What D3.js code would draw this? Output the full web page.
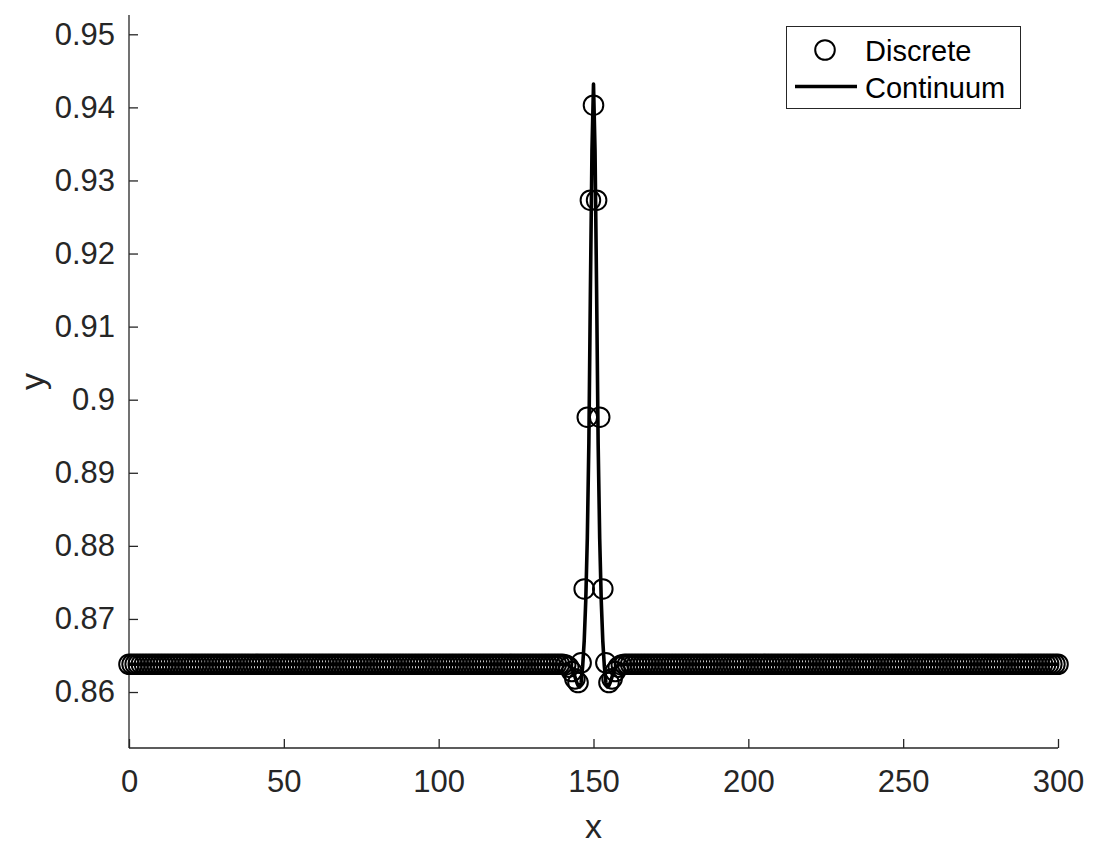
<!DOCTYPE html>
<html>
<head>
<meta charset="utf-8">
<script src="https://cdn.jsdelivr.net/npm/d3@7"></script>
<style>
  html, body { margin: 0; padding: 0; background: #fff; }
  svg { display: block; }
  text { font-family: "Liberation Sans", Arial, Helvetica, sans-serif; }
</style>
</head>
<body>
<svg id="chart" width="1101" height="858"></svg>
<script>
// ---------- data ----------
const xTicks = [0, 50, 100, 150, 200, 250, 300];
const yTicks = [0.86, 0.87, 0.88, 0.89, 0.90, 0.91, 0.92, 0.93, 0.94, 0.95];

// Discrete lattice: integer sites 0..300, flat background value away from the peak
const discreteSiteRange = [0, 300];
const discreteBaseline = 0.8638;
const discretePeakX = [141, 142, 143, 144, 145, 146, 147, 148, 149, 150, 151, 152, 153, 154, 155, 156, 157, 158, 159];
const discretePeakY = [0.8637, 0.8634, 0.8628, 0.8618, 0.8613, 0.8640, 0.8741, 0.8976, 0.9273, 0.9403,
                       0.9273, 0.8976, 0.8741, 0.8640, 0.8613, 0.8618, 0.8628, 0.8634, 0.8637];

// Continuum curve
const continuumX = [0, 140, 141, 142, 142.5, 143, 143.5, 144, 144.5, 145, 145.5, 146, 146.5, 147, 147.5, 148, 148.5, 149, 149.5, 150,
                    150.5, 151, 151.5, 152, 152.5, 153, 153.5, 154, 154.5, 155, 155.5, 156, 156.5, 157, 157.5, 158, 159, 160, 300];
const continuumY = [0.8638, 0.8638, 0.8638, 0.8637, 0.8635, 0.8632, 0.8627, 0.8621, 0.8614, 0.8609, 0.8607, 0.8613, 0.8635, 0.8670, 0.8725, 0.8810, 0.8940, 0.9150, 0.9340, 0.9432,
                    0.9340, 0.9150, 0.8940, 0.8810, 0.8725, 0.8670, 0.8635, 0.8613, 0.8607, 0.8609, 0.8614, 0.8621, 0.8627, 0.8632, 0.8635, 0.8637, 0.8638, 0.8638, 0.8638];

const seriesNames = ["Discrete", "Continuum"];
const xLabel = "x", yLabel = "y";

// ---------- build discrete table ----------
const discrete = d3.range(discreteSiteRange[0], discreteSiteRange[1] + 1).map(xv => {
  const i = discretePeakX.indexOf(xv);
  return { x: xv, y: i >= 0 ? discretePeakY[i] : discreteBaseline };
});
const continuum = continuumX.map((xv, i) => ({ x: xv, y: continuumY[i] }));

// ---------- layout ----------
const svg = d3.select("#chart");
const plotL = 129, plotR = 1058, plotT = 15, plotB = 748;
const axisColor = "#262626";

const xScale = d3.scaleLinear().domain([0, 300]).range([plotL, plotR]);
const yScale = d3.scaleLinear().domain([0.85234, 0.95264]).range([plotB, plotT]);

svg.append("rect").attr("width", 1101).attr("height", 858).attr("fill", "#fff");

// axes (ticks pointing inward, box off)
const xAxis = d3.axisBottom(xScale).tickValues(xTicks).tickSizeInner(-9).tickSizeOuter(0).tickPadding(22).tickFormat(d3.format("d"));
const yAxis = d3.axisLeft(yScale).tickValues(yTicks).tickSizeInner(-9).tickSizeOuter(0).tickPadding(14).tickFormat(d3.format(".2~f"));

const gx = svg.append("g").attr("transform", `translate(0,${plotB})`).call(xAxis);
const gy = svg.append("g").attr("transform", `translate(${plotL},0)`).call(yAxis);
[gx, gy].forEach(g => {
  g.select(".domain").attr("stroke", axisColor).attr("stroke-width", 1.3);
  g.selectAll(".tick line").attr("stroke", axisColor).attr("stroke-width", 1.3);
  g.selectAll(".tick text").attr("fill", axisColor).style("font-size", "31px")
    .style("font-family", '"Liberation Sans", Arial, Helvetica, sans-serif');
});
gx.select(".domain").attr("d", `M${plotL},0H${plotR}`);
gy.select(".domain").attr("d", `M0,${plotB}V${plotT}`);
gx.selectAll(".tick text").attr("dy", "0.71em");

// axis labels
svg.append("text").attr("x", (plotL + plotR) / 2).attr("y", 838)
  .attr("text-anchor", "middle").attr("fill", axisColor).style("font-size", "34px").text(xLabel);
svg.append("text").attr("transform", `translate(44,${(plotT + plotB) / 2}) rotate(-90)`)
  .attr("text-anchor", "middle").attr("fill", axisColor).style("font-size", "34px").text(yLabel);

// discrete circles
svg.append("g").selectAll("circle").data(discrete).join("circle")
  .attr("cx", d => xScale(d.x)).attr("cy", d => yScale(d.y)).attr("r", 9.8)
  .attr("fill", "none").attr("stroke", "#000").attr("stroke-width", 2);

// continuum line
svg.append("path").datum(continuum)
  .attr("d", d3.line().x(d => xScale(d.x)).y(d => yScale(d.y)))
  .attr("fill", "none").attr("stroke", "#000").attr("stroke-width", 3.6).attr("stroke-linejoin", "round");

// legend
const lg = svg.append("g");
lg.append("rect").attr("x", 786.5).attr("y", 26.5).attr("width", 234).attr("height", 82)
  .attr("fill", "#fff").attr("stroke", axisColor).attr("stroke-width", 1);
lg.append("circle").attr("cx", 825).attr("cy", 50).attr("r", 9.8)
  .attr("fill", "none").attr("stroke", "#000").attr("stroke-width", 2);
lg.append("line").attr("x1", 795).attr("x2", 857).attr("y1", 86.5).attr("y2", 86.5)
  .attr("stroke", "#000").attr("stroke-width", 3.6);
lg.append("text").attr("x", 865).attr("y", 51).attr("dy", "0.36em").attr("fill", "#000")
  .style("font-size", "29px").text(seriesNames[0]);
lg.append("text").attr("x", 865).attr("y", 88).attr("dy", "0.36em").attr("fill", "#000")
  .style("font-size", "29px").text(seriesNames[1]);
</script>
</body>
</html>
